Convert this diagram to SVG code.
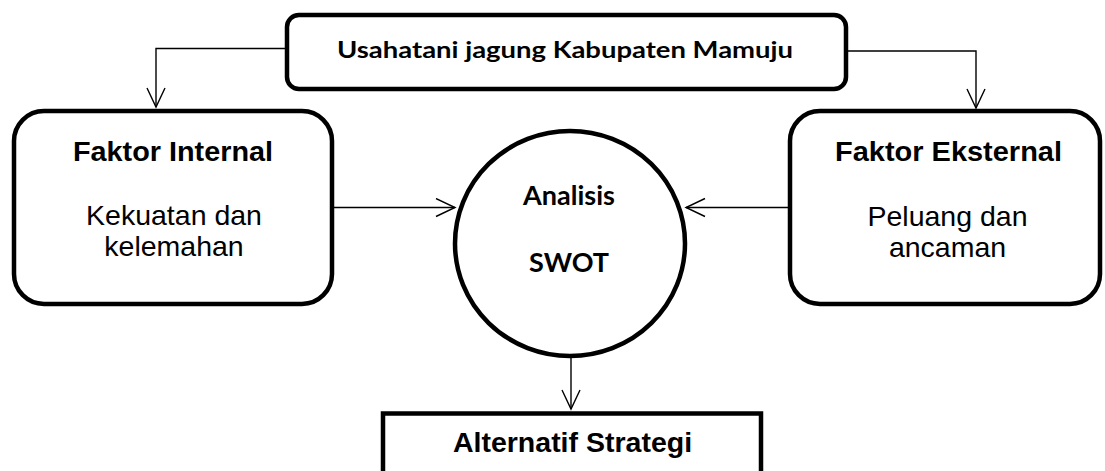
<svg xmlns="http://www.w3.org/2000/svg" width="1105" height="471" viewBox="0 0 1105 471">
<style>
.box{fill:#fff;stroke:#000;stroke-width:4.5}
.con{fill:none;stroke:#000;stroke-width:1.4}
.ar{font-family:"Liberation Sans",Arial,sans-serif;fill:#000;text-anchor:middle}
.b{font-weight:bold}
.cal{font-family:Lato,"Liberation Sans",sans-serif;font-weight:bold;fill:#000;text-anchor:middle}
</style>
<defs>
<marker id="arr" markerWidth="24" markerHeight="24" refX="20" refY="10" orient="auto" markerUnits="userSpaceOnUse">
<path d="M1,1 L20,10 L1,19" fill="none" stroke="#000" stroke-width="1.4"/>
</marker>
</defs>
<rect width="1105" height="471" fill="#fff"/>
<g id="connectors">
<path class="con" d="M287,48.5 H156 V107" marker-end="url(#arr)"/>
<path class="con" d="M846,51 H976 V108" marker-end="url(#arr)"/>
<path class="con" d="M332,207.5 H455" marker-end="url(#arr)"/>
<path class="con" d="M790,207.5 H686" marker-end="url(#arr)"/>
<path class="con" d="M571,358 V409" marker-end="url(#arr)"/>
</g>
<g id="node-usahatani">
<rect class="box" x="287" y="15" width="559" height="74" rx="12"/>
<text class="cal" x="565" y="58" font-size="23.5" textLength="456" lengthAdjust="spacingAndGlyphs">Usahatani jagung Kabupaten Mamuju</text>
</g>
<g id="node-internal">
<rect class="box" x="14" y="111" width="318" height="193" rx="30"/>
<text class="ar b" x="173" y="160.5" font-size="28" textLength="200" lengthAdjust="spacingAndGlyphs">Faktor Internal</text>
<text class="ar" x="174" y="225" font-size="28.5">Kekuatan dan</text>
<text class="ar" x="174" y="256" font-size="28.5">kelemahan</text>
</g>
<g id="node-eksternal">
<rect class="box" x="790" y="111" width="310" height="193" rx="30"/>
<text class="ar b" x="948.5" y="160.5" font-size="28" textLength="227" lengthAdjust="spacingAndGlyphs">Faktor Eksternal</text>
<text class="ar" x="947.5" y="226" font-size="28.5">Peluang dan</text>
<text class="ar" x="947.5" y="257" font-size="28.5">ancaman</text>
</g>
<g id="node-swot">
<ellipse class="box" cx="570" cy="243.5" rx="115" ry="112.5"/>
<text class="cal" x="569" y="204.5" font-size="27">Analisis</text>
<text class="cal" x="569" y="271.5" font-size="27">SWOT</text>
</g>
<g id="node-alternatif">
<rect class="box" x="383" y="413.5" width="378" height="80"/>
<text class="ar b" x="572.5" y="451.5" font-size="28.5">Alternatif Strategi</text>
</g>
</svg>
